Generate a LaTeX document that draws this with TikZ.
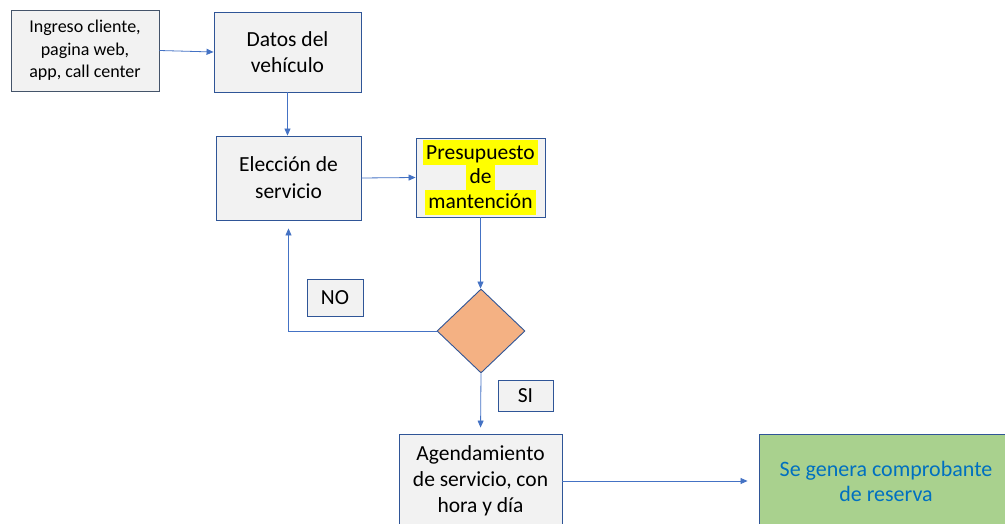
\documentclass[tikz,border=0pt]{standalone}
\usepackage{fontspec}
\setmainfont{Carlito}
\usetikzlibrary{arrows.meta, shapes.geometric, calc}

\definecolor{linkblue}{HTML}{4472C4}
\definecolor{boxedge}{HTML}{2F5597}
\definecolor{slateedge}{HTML}{44546A}
\definecolor{boxfill}{HTML}{F2F2F2}
\definecolor{decfill}{HTML}{F4B183}
\definecolor{okfill}{HTML}{A9D18E}
\definecolor{oktext}{HTML}{0070C0}
\definecolor{hlyellow}{HTML}{FFFF00}

\newcommand{\hlline}[1]{{\setlength{\fboxsep}{0pt}\colorbox{hlyellow}{\rule[-6pt]{0pt}{25pt}\,#1\,}}}
\newcommand{\tightlines}{\lineskiplimit=-100pt\relax}

\begin{document}
\begin{tikzpicture}[x=1pt, y=-1pt,
    box/.style={draw=boxedge, fill=boxfill, line width=0.9pt, inner sep=0pt, align=center,
        font=\fontsize{21.5}{26}\selectfont},
    link/.style={draw=linkblue, line width=0.8pt, -{Triangle[length=7pt,width=6pt]}}]
        \useasboundingbox (0,0) rectangle (1005,524);
        \clip (0,0) rectangle (1005,524);

        \node[box, draw=slateedge, minimum width=148pt, minimum height=81pt,
            font=\fontsize{18}{22.5}\selectfont] (ingreso) at (85,50.5) {Ingreso cliente,\\ pagina web,\\ app, call center};
        \node[box, minimum width=147pt, minimum height=80pt] (datos) at (287.5,52) {Datos del\\ vehículo};
        \node[box, minimum width=145pt, minimum height=84pt,
            font=\fontsize{21.5}{27}\selectfont] (eleccion) at (288.5,178) {Elección de\\ servicio};
        \node[box, minimum width=129pt, minimum height=79pt,
            font=\fontsize{21.5}{25}\selectfont\tightlines] (presupuesto) at (480.5,177.5)
            {\hlline{Presupuesto}\\ \hlline{de}\\ \hlline{mantención}};

        \node[diamond, draw=boxedge, fill=decfill, line width=0.9pt, inner sep=0pt,
            minimum width=88pt, minimum height=84pt] (decision) at (481,331) {};
        \node[box, minimum width=56pt, minimum height=37pt] (no) at (335,297.5) {NO};
        \node[box, minimum width=55pt, minimum height=31pt] (si) at (525.5,395.5) {SI};

        \node[box, minimum width=163pt, minimum height=94pt] (agenda) at (480.5,481) {Agendamiento\\ de servicio, con\\ hora y día};
        \node[box, fill=okfill, text=oktext, minimum width=254pt, minimum height=94pt,
            font=\fontsize{22}{25}\selectfont] (reserva) at (886,481) {Se genera comprobante\\ de reserva};

        \draw[link] (ingreso.east) -- (datos.west);
        \draw[link] (datos.south) -- (datos.south |- eleccion.north);
        \draw[link] (eleccion.east) -- (presupuesto.west);
        \draw[link] (presupuesto.south) -- (presupuesto.south |- decision.north);
        \draw[link] (decision.west) -| ($(eleccion.south)+(0,8)$);
        \draw[link, shorten >=6pt] (decision.south) -- (agenda.north);
        \draw[link, shorten >=11pt] (agenda.east) -- (reserva.west);
    \end{tikzpicture}
\end{document}
